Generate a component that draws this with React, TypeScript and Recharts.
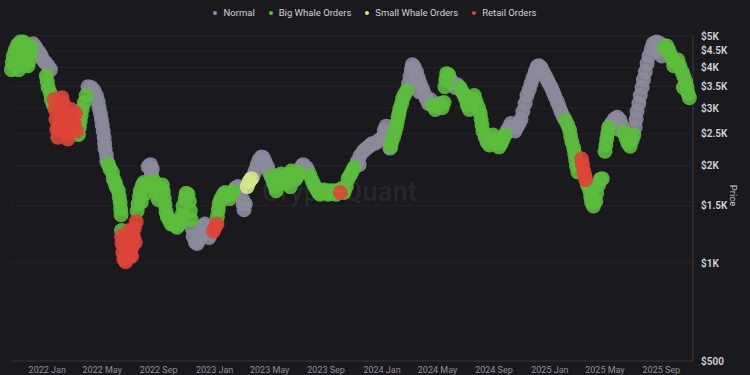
import React from "react";
import { ScatterChart, Scatter, XAxis, YAxis, CartesianGrid } from "recharts";

type Pt = [string, number];

// price trail (date, USD)
const normalPts: Pt[] = [
  ["2021-12-01", 4730], ["2021-12-06", 4630], ["2021-12-10", 4530], ["2021-12-15", 4440], ["2021-12-19", 4340],
  ["2021-12-23", 4220], ["2021-12-28", 4140], ["2022-01-03", 4050], ["2022-01-08", 3940],
  ["2022-03-31", 3490], ["2022-04-07", 3470], ["2022-04-13", 3400], ["2022-04-18", 3280], ["2022-04-22", 3140],
  ["2022-04-24", 3010], ["2022-04-27", 2890], ["2022-04-29", 2770], ["2022-05-01", 2660], ["2022-05-03", 2550],
  ["2022-05-05", 2440], ["2022-05-06", 2340], ["2022-05-07", 2250], ["2022-05-10", 2150], ["2022-05-11", 2060],
  ["2022-08-09", 1980], ["2022-08-14", 2010], ["2022-08-16", 1880], ["2022-08-18", 1950],
  ["2022-11-13", 1280], ["2022-11-15", 1210], ["2022-11-20", 1160], ["2022-11-24", 1150], ["2022-11-28", 1180],
  ["2022-12-03", 1230], ["2022-12-07", 1300], ["2022-12-11", 1320], ["2022-12-16", 1250], ["2022-12-20", 1200],
  ["2022-12-22", 1230],
  ["2023-02-15", 1700], ["2023-02-21", 1720], ["2023-02-26", 1650], ["2023-03-02", 1580], ["2023-03-04", 1520],
  ["2023-03-06", 1460], ["2023-03-09", 1520],
  ["2023-03-26", 1850], ["2023-03-30", 1920], ["2023-04-04", 2010], ["2023-04-08", 2080], ["2023-04-13", 2120],
  ["2023-04-17", 2110], ["2023-04-21", 2050], ["2023-04-26", 1980], ["2023-04-30", 1910],
  ["2023-07-09", 1980], ["2023-07-13", 2010], ["2023-07-20", 1970], ["2023-07-24", 1920],
  ["2023-11-08", 2050], ["2023-11-12", 2010], ["2023-11-14", 2140], ["2023-11-21", 2210], ["2023-11-27", 2250],
  ["2023-12-04", 2290], ["2023-12-10", 2330], ["2023-12-17", 2340], ["2023-12-24", 2380], ["2023-12-30", 2410],
  ["2024-01-02", 2440], ["2024-01-06", 2570], ["2024-01-10", 2640], ["2024-01-14", 2510], ["2024-01-16", 2380],
  ["2024-01-18", 2260],
  ["2024-02-28", 3570], ["2024-03-02", 3750], ["2024-03-05", 3940], ["2024-03-07", 4080], ["2024-03-11", 4020],
  ["2024-03-13", 3670], ["2024-03-16", 3880], ["2024-03-20", 3720], ["2024-03-22", 3370], ["2024-03-24", 3570],
  ["2024-03-29", 3440], ["2024-04-02", 3330], ["2024-04-06", 3210], ["2024-04-11", 3100], ["2024-04-15", 3190],
  ["2024-05-29", 3670], ["2024-06-03", 3570], ["2024-06-09", 3470], ["2024-06-13", 3540],
  ["2024-09-29", 2550], ["2024-10-04", 2620], ["2024-10-08", 2690], ["2024-10-13", 2620], ["2024-10-17", 2550],
  ["2024-10-21", 2620], ["2024-10-26", 2690], ["2024-10-30", 2770], ["2024-11-03", 2930], ["2024-11-08", 3100],
  ["2024-11-12", 3280], ["2024-11-17", 3420], ["2024-11-21", 3570], ["2024-11-25", 3720], ["2024-11-30", 3880],
  ["2024-12-04", 4020], ["2024-12-08", 4050], ["2024-12-13", 3990], ["2024-12-17", 3880], ["2024-12-22", 3770],
  ["2024-12-26", 3670], ["2024-12-30", 3570], ["2025-01-04", 3470], ["2025-01-08", 3370], ["2025-01-12", 3260],
  ["2025-01-17", 3140], ["2025-01-21", 3040], ["2025-01-25", 2930], ["2025-01-30", 2830],
  ["2025-05-15", 2690], ["2025-05-21", 2770], ["2025-05-28", 2810], ["2025-06-01", 2580], ["2025-06-03", 2750],
  ["2025-06-08", 2640],
  ["2025-07-06", 2620], ["2025-07-08", 2770], ["2025-07-10", 2930], ["2025-07-14", 3100], ["2025-07-17", 3280],
  ["2025-07-21", 3470], ["2025-07-24", 3670], ["2025-07-28", 3880], ["2025-08-01", 4110], ["2025-08-05", 4340],
  ["2025-08-10", 4560], ["2025-08-14", 4730], ["2025-08-21", 4790], ["2025-08-25", 4470], ["2025-08-27", 4760],
  ["2025-09-02", 4340], ["2025-09-03", 4690],
];

const bigWhalePts: Pt[] = [
  ["2021-10-15", 3940], ["2021-10-17", 4140], ["2021-10-19", 4340], ["2021-10-23", 4530], ["2021-10-24", 4050],
  ["2021-10-28", 4690], ["2021-10-31", 3940], ["2021-11-03", 4790], ["2021-11-04", 4280], ["2021-11-10", 4790],
  ["2021-11-12", 4080], ["2021-11-14", 4660], ["2021-11-16", 4470], ["2021-11-17", 4250], ["2021-11-20", 4050],
  ["2021-11-23", 4220], ["2021-11-25", 4440], ["2021-11-27", 4630],
  ["2021-12-30", 3770], ["2022-01-01", 3620], ["2022-01-03", 3470], ["2022-01-08", 3330], ["2022-01-10", 3190],
  ["2022-01-14", 3080],
  ["2022-03-10", 2490], ["2022-03-12", 2620], ["2022-03-14", 2730], ["2022-03-16", 2850], ["2022-03-18", 2970],
  ["2022-03-23", 3120], ["2022-03-27", 3280],
  ["2022-05-14", 2020], ["2022-05-18", 1950], ["2022-05-23", 1900], ["2022-05-25", 1820], ["2022-05-29", 1770],
  ["2022-05-31", 1720], ["2022-06-05", 1670], ["2022-06-07", 1600], ["2022-06-09", 1540], ["2022-06-10", 1470],
  ["2022-06-11", 1410], ["2022-06-12", 1260],
  ["2022-07-16", 1450], ["2022-07-18", 1520], ["2022-07-21", 1600], ["2022-07-23", 1670], ["2022-07-25", 1540],
  ["2022-07-27", 1730], ["2022-07-31", 1770], ["2022-08-01", 1630], ["2022-08-05", 1740],
  ["2022-08-22", 1790], ["2022-08-24", 1720], ["2022-08-27", 1640], ["2022-08-31", 1570], ["2022-09-04", 1630],
  ["2022-09-07", 1700], ["2022-09-09", 1740], ["2022-09-11", 1660], ["2022-09-13", 1580], ["2022-09-15", 1510],
  ["2022-09-17", 1440], ["2022-09-20", 1390],
  ["2022-09-24", 1360], ["2022-09-28", 1320], ["2022-10-03", 1340], ["2022-10-07", 1310], ["2022-10-11", 1290],
  ["2022-10-16", 1320], ["2022-10-20", 1360], ["2022-10-22", 1410], ["2022-10-24", 1500], ["2022-10-29", 1580],
  ["2022-10-31", 1640], ["2022-11-04", 1630], ["2022-11-07", 1550], ["2022-11-09", 1450], ["2022-11-11", 1360],
  ["2023-01-07", 1390], ["2023-01-09", 1460], ["2023-01-11", 1530], ["2023-01-15", 1580], ["2023-01-20", 1630],
  ["2023-01-24", 1650], ["2023-01-28", 1620], ["2023-02-02", 1580], ["2023-02-06", 1630], ["2023-02-10", 1660],
  ["2023-05-04", 1850], ["2023-05-09", 1770], ["2023-05-13", 1720], ["2023-05-15", 1670], ["2023-05-17", 1780],
  ["2023-05-22", 1850], ["2023-05-26", 1880], ["2023-05-30", 1820], ["2023-06-04", 1760], ["2023-06-08", 1820],
  ["2023-06-13", 1880], ["2023-06-15", 1720], ["2023-06-17", 1920], ["2023-06-21", 1870], ["2023-06-26", 1810],
  ["2023-06-30", 1850], ["2023-07-04", 1900],
  ["2023-07-28", 1860], ["2023-08-02", 1790], ["2023-08-06", 1740], ["2023-08-10", 1700], ["2023-08-15", 1650],
  ["2023-08-19", 1630], ["2023-08-24", 1660], ["2023-08-28", 1680], ["2023-09-01", 1650], ["2023-09-06", 1630],
  ["2023-09-10", 1670], ["2023-09-14", 1640], ["2023-09-19", 1670], ["2023-09-23", 1630], ["2023-09-27", 1670],
  ["2023-10-06", 1700], ["2023-10-10", 1650], ["2023-10-15", 1720],
  ["2023-10-19", 1820], ["2023-10-24", 1870], ["2023-10-28", 1920], ["2023-11-01", 1970],
  ["2024-01-20", 2280], ["2024-01-22", 2360], ["2024-01-26", 2440], ["2024-01-29", 2530], ["2024-02-01", 2620],
  ["2024-02-03", 2710], ["2024-02-05", 2810], ["2024-02-07", 2890], ["2024-02-09", 2990], ["2024-02-13", 3100],
  ["2024-02-15", 3210], ["2024-02-19", 3300], ["2024-02-24", 3400],
  ["2024-04-19", 3060], ["2024-04-26", 2970], ["2024-04-30", 3040], ["2024-05-07", 3100], ["2024-05-11", 3010],
  ["2024-05-15", 3120], ["2024-05-17", 3490], ["2024-05-19", 3670], ["2024-05-21", 3830], ["2024-05-25", 3800],
  ["2024-06-19", 3470], ["2024-06-24", 3370], ["2024-06-28", 3280], ["2024-07-02", 3190], ["2024-07-05", 3060],
  ["2024-07-09", 2970], ["2024-07-11", 3100], ["2024-07-16", 3190], ["2024-07-20", 3280], ["2024-07-24", 3140],
  ["2024-07-29", 3010], ["2024-08-02", 2890], ["2024-08-04", 2770], ["2024-08-06", 2660], ["2024-08-08", 2550],
  ["2024-08-13", 2440], ["2024-08-17", 2360], ["2024-08-22", 2310], ["2024-08-26", 2390], ["2024-08-30", 2480],
  ["2024-09-04", 2410], ["2024-09-08", 2330], ["2024-09-12", 2280], ["2024-09-17", 2340], ["2024-09-21", 2410],
  ["2024-09-25", 2480],
  ["2025-02-04", 2750], ["2025-02-09", 2660], ["2025-02-13", 2570], ["2025-02-15", 2460], ["2025-02-18", 2360],
  ["2025-02-22", 2260], ["2025-02-24", 2170], ["2025-02-26", 2080], ["2025-02-28", 1990], ["2025-03-03", 1910],
  ["2025-03-24", 1740], ["2025-03-29", 1670], ["2025-03-31", 1600], ["2025-04-02", 1540], ["2025-04-06", 1500],
  ["2025-04-11", 1550], ["2025-04-13", 1640], ["2025-04-17", 1740], ["2025-04-21", 1810], ["2025-04-25", 1820],
  ["2025-05-01", 2210], ["2025-05-03", 2310], ["2025-05-05", 2410], ["2025-05-07", 2510], ["2025-05-09", 2620],
  ["2025-06-11", 2530], ["2025-06-16", 2430], ["2025-06-20", 2340], ["2025-06-25", 2290], ["2025-06-29", 2390],
  ["2025-07-03", 2480],
  ["2025-09-08", 4590], ["2025-09-13", 4660], ["2025-09-17", 4530], ["2025-09-21", 4380], ["2025-09-26", 4220],
  ["2025-09-28", 4050], ["2025-10-02", 4160], ["2025-10-07", 4220], ["2025-10-11", 4050], ["2025-10-16", 3880],
  ["2025-10-19", 3470], ["2025-10-20", 3750], ["2025-10-24", 3620], ["2025-10-27", 3470], ["2025-10-29", 3330],
  ["2025-11-01", 3230],
];

const smallWhalePts: Pt[] = [["2023-03-13", 1720], ["2023-03-17", 1780], ["2023-03-22", 1820]];

const retailPts: Pt[] = [
  ["2022-01-16", 3190], ["2022-01-18", 2970], ["2022-01-20", 2770], ["2022-01-22", 2580], ["2022-01-24", 2440],
  ["2022-01-27", 2580], ["2022-01-29", 2770], ["2022-01-31", 3010], ["2022-02-02", 3230], ["2022-02-05", 3100],
  ["2022-02-08", 2890], ["2022-02-10", 2690], ["2022-02-12", 2510], ["2022-02-15", 2410], ["2022-02-18", 2580],
  ["2022-02-20", 2770], ["2022-02-22", 2970], ["2022-02-25", 2810], ["2022-02-27", 2620], ["2022-03-01", 2690],
  ["2022-03-04", 2890], ["2022-03-06", 2550],
  ["2022-06-12", 1210], ["2022-06-13", 1150], ["2022-06-15", 1080], ["2022-06-17", 1030], ["2022-06-19", 1130],
  ["2022-06-21", 1010], ["2022-06-22", 1070], ["2022-06-24", 1130], ["2022-06-26", 1200], ["2022-06-28", 1260],
  ["2022-06-29", 1050], ["2022-06-30", 1180], ["2022-07-02", 1100], ["2022-07-04", 1050], ["2022-07-06", 1130],
  ["2022-07-08", 1210], ["2022-07-10", 1280], ["2022-07-12", 1160], ["2022-07-14", 1340],
  ["2022-12-29", 1255], ["2023-01-02", 1290], ["2023-01-06", 1320],
  ["2023-10-02", 1650],
  ["2025-03-11", 2090], ["2025-03-13", 2010], ["2025-03-16", 1920], ["2025-03-18", 1860], ["2025-03-20", 1810],
];

const xDomain = ["2021-10-14", "2025-11-09"];
const xTickDates = [
  "2022-01-01", "2022-05-01", "2022-09-01", "2023-01-01", "2023-05-01", "2023-09-01",
  "2024-01-01", "2024-05-01", "2024-09-01", "2025-01-01", "2025-05-01", "2025-09-01",
];
const yTicks = [500, 1000, 1500, 2000, 2500, 3000, 3500, 4000, 4500, 5000];
const MONTHS = ["Jan", "Feb", "Mar", "Apr", "May", "Jun", "Jul", "Aug", "Sep", "Oct", "Nov", "Dec"];

const series = [
  { name: "Normal", color: "#8b8b9c", pts: normalPts },
  { name: "Big Whale Orders", color: "#5cbd3d", pts: bigWhalePts },
  { name: "Small Whale Orders", color: "#d4e78e", pts: smallWhalePts },
  { name: "Retail Orders", color: "#dd4537", pts: retailPts },
];

const ts = (d: string) => Date.parse(d);
const toRows = (pts: Pt[]) => pts.map(([d, price]) => ({ t: ts(d), price }));
const fmtDate = (t: number) => {
  const d = new Date(t);
  return `${d.getUTCFullYear()} ${MONTHS[d.getUTCMonth()]}`;
};
const fmtPrice = (v: number) => (v < 1000 ? `$${v}` : `$${v / 1000}K`);

// bubbles are fixed-size in the original
const Bubble = (p: any) => <circle cx={p.cx} cy={p.cy} r={7.5} fill={p.fill} fillOpacity={0.9} />;

function PriceLabel({ viewBox }: any) {
  const cx = viewBox.x + viewBox.width - 17;
  const cy = viewBox.y + viewBox.height / 2 - 3;
  return (
    <text x={cx} y={cy} transform={`rotate(90 ${cx} ${cy})`} textAnchor="middle" dominantBaseline="central"
      fill="#c8c8cc" fontSize={9.5}>
      Price
    </text>
  );
}

export default function App() {
  return (
    <div style={{ position: "absolute", left: 0, top: 0, width: 750, height: 375, background: "#1a1a1e",
      fontFamily: "Roboto, 'Noto Sans', sans-serif", overflow: "hidden" }}>
      <div style={{ position: "absolute", left: 0, right: 0, top: 7, display: "flex", justifyContent: "center",
        gap: 14, fontSize: 9.5, color: "#d2d2d4" }}>
        {series.map((s) => (
          <div key={s.name} style={{ display: "flex", alignItems: "center", gap: 6 }}>
            <span style={{ width: 4, height: 4, borderRadius: 2, background: s.color, display: "inline-block" }} />
            <span>{s.name}</span>
          </div>
        ))}
      </div>
      <div style={{ position: "absolute", left: 262, top: 176, fontSize: 27, fontWeight: 500,
        color: "rgba(255,255,255,0.065)", letterSpacing: 0.3 }}>
        CryptoQuant
      </div>
      <ScatterChart width={750} height={375} margin={{ top: 36, right: 0, bottom: 0, left: 11 }}
        style={{ position: "absolute", left: 0, top: 0 }}>
        <CartesianGrid vertical={false} stroke="#232328" />
        <XAxis type="number" dataKey="t" domain={[ts(xDomain[0]), ts(xDomain[1])]} ticks={xTickDates.map(ts)}
          tickFormatter={fmtDate} interval={0} height={14} tickLine={false} tickSize={0} tickMargin={6}
          axisLine={{ stroke: "#2e2e34" }} tick={{ fill: "#8e8e94", fontSize: 9 }} />
        <YAxis type="number" dataKey="price" scale="log" domain={[500, 5000]} ticks={yTicks} interval={0}
          orientation="right" width={57} tickFormatter={fmtPrice} tickLine={false}
          axisLine={{ stroke: "#3a3a40" }} tick={{ fill: "#d4d4d8", fontSize: 10, fontWeight: 600 }}
          label={<PriceLabel />} />
        {series.map((s) => (
          <Scatter key={s.name} name={s.name} data={toRows(s.pts)} fill={s.color} shape={Bubble}
            isAnimationActive={false} />
        ))}
      </ScatterChart>
    </div>
  );
}
